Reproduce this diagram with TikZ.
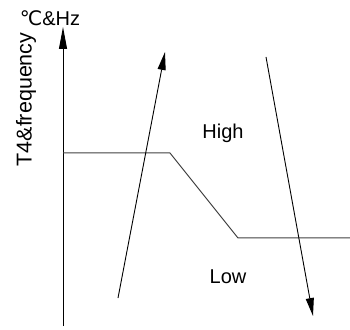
\documentclass[tikz,border=0pt]{standalone}
\usepackage{fontspec}
\setmainfont{Liberation Sans}
\newfontfamily\symfont{DejaVu Sans}
\usetikzlibrary{arrows.meta}
\begin{document}
\begin{tikzpicture}[x=1pt,y=1pt,
  lbl/.style={inner sep=0pt,font=\fontsize{20}{24}\selectfont},
  arr/.style={line width=0.9pt,-{Triangle[length=18pt,width=8pt]}},
  thr/.style={line width=1pt,black!75}]
\useasboundingbox (0,0) rectangle (350,329);
\coordinate (a0) at (63,3);
\coordinate (a1) at (63,302);
\draw[line width=0.9pt,-{Triangle[length=22pt,width=8pt]}] (a0) -- (a1);
\coordinate (t0) at (63,176);
\coordinate (t1) at (170,176);
\coordinate (t2) at (238,91);
\coordinate (t3) at (350,91);
\draw[thr] (t0) -- (t1) -- (t2) -- (t3);
\coordinate (u0) at (118,31);
\coordinate (u1) at (165,277);
\draw[arr] (u0) -- (u1);
\coordinate (d0) at (266,272);
\coordinate (d1) at (313,13);
\draw[arr] (d0) -- (d1);
\node[lbl] (high) at (223,196) {High};
\node[lbl] (low) at (228,52) {Low};
\node[lbl] (unit) at (50,311) {{\symfont ℃}\&Hz};
\node[lbl,font=\fontsize{21.5}{25}\selectfont,rotate=90] (ylab) at (26,229.5) {T4\&frequency};
\end{tikzpicture}
\end{document}
